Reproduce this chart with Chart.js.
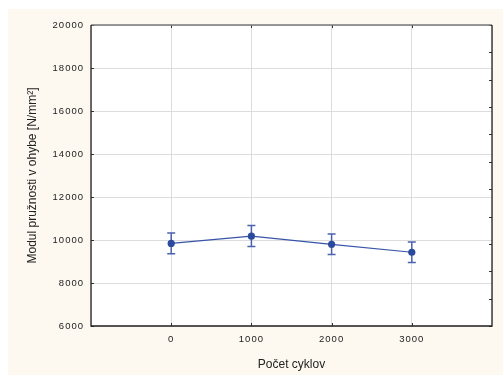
<!DOCTYPE html>
<html>
<head>
<meta charset="utf-8">
<script src="https://cdn.jsdelivr.net/npm/chart.js@4.4.1/dist/chart.umd.min.js"></script>
<style>
html, body { margin: 0; padding: 0; background: #fff; }
#wrap { position: absolute; left: 8px; top: 9px; width: 495px; height: 366px; background: #fdf9f0; }
</style>
</head>
<body>
<div id="wrap"><canvas id="chart"></canvas></div>
<script>
// data
const cycles = [0, 1000, 2000, 3000];
const modulus = [9840, 10180, 9800, 9430];
const upper = [10330, 10670, 10280, 9910];
const lower = [9360, 9700, 9330, 8950];
const xTickLabels = [0, 1000, 2000, 3000];

const xTitle = "Počet cyklov";
const yTitle = "Modul pružnosti v ohybe [N/mm²]";

const points = cycles.map((c, i) => ({ x: c, y: modulus[i] }));

/* ============================
   FRAME, ERROR BARS, SPACING
============================ */
const framePlugin = {
    id: "frame",
    beforeDraw(chart) {
        const { ctx, chartArea: a } = chart;
        ctx.letterSpacing = "0px";
        ctx.save();
        ctx.fillStyle = "#ffffff";
        ctx.fillRect(a.left, a.top, a.right - a.left, a.bottom - a.top);
        ctx.restore();
    },
    beforeDatasetsDraw(chart) {
        const { ctx, chartArea: a, scales } = chart;
        ctx.save();

        // error bars
        ctx.strokeStyle = "#4a63ad";
        ctx.lineWidth = 1.5;
        cycles.forEach((c, i) => {
            const x = scales.x.getPixelForValue(c);
            const yt = scales.y.getPixelForValue(upper[i]);
            const yb = scales.y.getPixelForValue(lower[i]);
            ctx.beginPath();
            ctx.moveTo(x, yt); ctx.lineTo(x, yb);
            ctx.moveTo(x - 4, yt); ctx.lineTo(x + 4, yt);
            ctx.moveTo(x - 4, yb); ctx.lineTo(x + 4, yb);
            ctx.stroke();
        });

        // inward ticks
        ctx.strokeStyle = "#333";
        ctx.lineWidth = 1;
        ctx.beginPath();
        scales.y.ticks.forEach(t => {
            const y = Math.round(scales.y.getPixelForValue(t.value)) + 0.5;
            ctx.moveTo(a.left, y); ctx.lineTo(a.left + 3, y);
        });
        scales.y2.ticks.forEach(t => {
            const y = Math.round(scales.y2.getPixelForValue(t.value)) + 0.5;
            ctx.moveTo(a.right, y); ctx.lineTo(a.right - 3, y);
        });
        xTickLabels.forEach(v => {
            const x = Math.round(scales.x.getPixelForValue(v)) + 0.5;
            ctx.moveTo(x, a.bottom); ctx.lineTo(x, a.bottom - 3);
            ctx.moveTo(x, a.top); ctx.lineTo(x, a.top + 3);
        });
        ctx.stroke();

        // border
        ctx.lineWidth = 1.3;
        ctx.strokeStyle = "#777";
        ctx.beginPath();
        ctx.moveTo(a.left, a.top); ctx.lineTo(a.right, a.top);
        ctx.stroke();
        ctx.strokeStyle = "#222";
        ctx.beginPath();
        ctx.moveTo(a.right, a.top); ctx.lineTo(a.right, a.bottom);
        ctx.lineTo(a.left, a.bottom); ctx.lineTo(a.left, a.top);
        ctx.stroke();
        ctx.restore();
    },
    afterDatasetsDraw(chart) {
        // tick labels are drawn after this (ticks.z = 1), spaced out like the original
        chart.ctx.letterSpacing = "1px";
    }
};

/* ============================
   CHART
============================ */
const ctx = document.getElementById("chart").getContext("2d");

new Chart(ctx, {
    type: "line",
    data: {
        datasets: [{
            data: points,
            borderColor: "#3754a8",
            borderWidth: 1.2,
            tension: 0,
            pointRadius: 3.6,
            pointBackgroundColor: "#2b4a9f",
            pointBorderColor: "#2b4a9f",
            pointBorderWidth: 0
        }]
    },
    options: {
        responsive: true,
        maintainAspectRatio: false,
        animation: false,
        layout: { padding: { top: 16, right: 11, left: 0, bottom: 0 } },
        plugins: { legend: { display: false }, tooltip: { enabled: false } },
        scales: {
            x: {
                type: "linear",
                min: -1000,
                max: 4000,
                ticks: {
                    stepSize: 1000,
                    z: 1,
                    padding: 8,
                    color: "#222",
                    font: { family: "Liberation Sans, Arial", size: 9.5 },
                    callback: v => xTickLabels.includes(v) ? String(v) : ""
                },
                grid: { color: "#dddddd", drawTicks: false },
                border: { display: false },
                title: {
                    display: true,
                    text: xTitle,
                    color: "#222",
                    font: { family: "Liberation Sans, Arial", size: 12 },
                    padding: { top: 0, bottom: 3 }
                },
                afterFit: s => { s.height = 49; }
            },
            y: {
                min: 6000,
                max: 20000,
                ticks: {
                    stepSize: 2000,
                    z: 1,
                    padding: 7,
                    color: "#222",
                    font: { family: "Liberation Sans, Arial", size: 9.5 },
                    callback: v => String(v)
                },
                grid: { color: "#dddddd", drawTicks: false },
                border: { display: false },
                title: {
                    display: true,
                    text: yTitle,
                    color: "#222",
                    font: { family: "Liberation Sans, Arial", size: 12 },
                    padding: { top: 17, bottom: 0 }
                },
                afterFit: s => { s.width = 83; }
            },
            y2: {
                position: "right",
                display: false,
                min: 0,
                max: 11,
                ticks: { stepSize: 1 }
            }
        }
    },
    plugins: [framePlugin]
});
</script>
</body>
</html>
